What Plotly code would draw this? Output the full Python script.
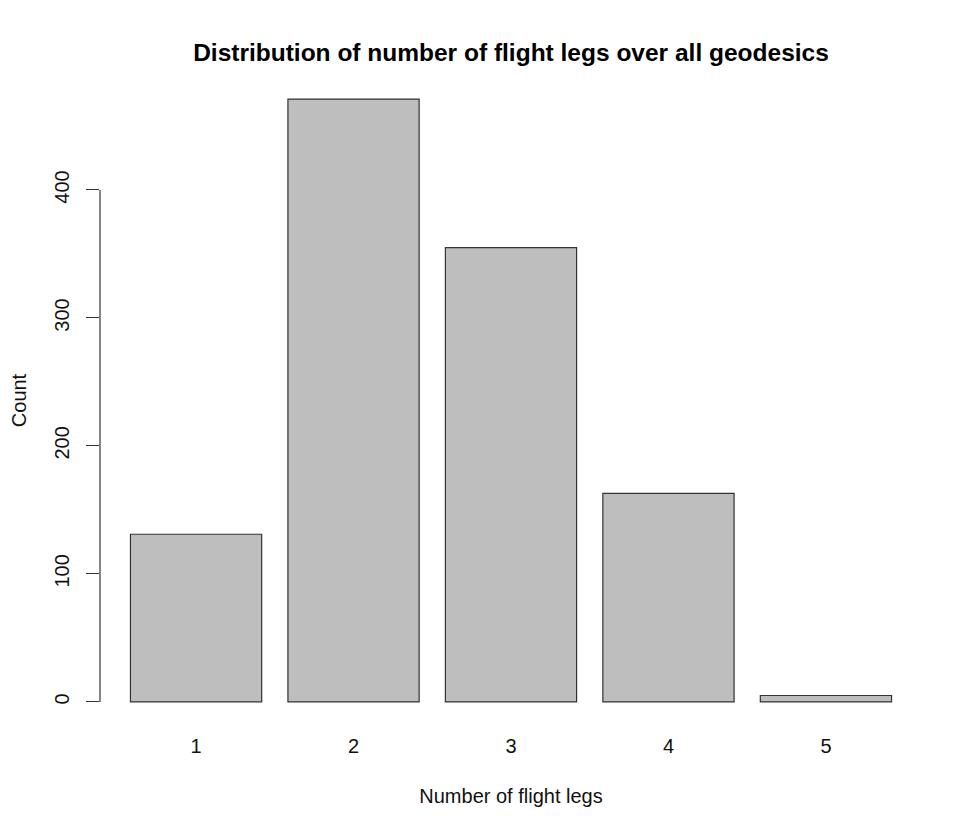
import plotly.graph_objects as go

# counts of flight legs per geodesic
legs = ['1', '2', '3', '4', '5']
counts = [131, 471, 355, 163, 5]
y_ticks = [0, 100, 200, 300, 400]

font = 'Liberation Sans, Arial, sans-serif'

fig = go.Figure()
fig.add_trace(go.Bar(
    x=legs, y=counts,
    marker=dict(color='#bebebe', line=dict(color='#333333', width=1.2)),
    showlegend=False,
))

# R draws the y axis line only between the first and last tick
fig.add_shape(type='line', xref='paper', yref='y',
              x0=0, x1=0, y0=y_ticks[0], y1=y_ticks[-1],
              line=dict(color='#333333', width=1.2))

# page body has an 8px margin, so the figure is 8px smaller each way
fig.update_layout(
    width=966, height=825,
    margin=dict(l=92, r=52, t=67, b=107),
    paper_bgcolor='white', plot_bgcolor='white',
    bargap=0.2 / 1.2,
    font=dict(family=font, size=20, color='#111111'),
    title=dict(text='<b>Distribution of number of flight legs over all geodesics</b>',
               x=0.5207, xanchor='center', y=0.9467, yanchor='middle',
               font=dict(size=24.5, color='#000000')),
)
fig.update_xaxes(
    type='category', range=[-0.61, 4.61], automargin=False,
    showline=False, showgrid=False, zeroline=False, ticks='',
    ticklabelstandoff=6,
    title=dict(text='Number of flight legs', standoff=32, font=dict(size=20)),
)
fig.update_yaxes(
    range=[-18.84, 489.84], tickvals=y_ticks, automargin=False,
    showline=False, showgrid=False, zeroline=False,
    ticks='outside', ticklen=13, tickwidth=1.2, tickcolor='#333333',
    tickangle=-90, ticklabelstandoff=9,
    title=dict(text='Count', standoff=26, font=dict(size=20)),
)

fig.write_html('out.html')
